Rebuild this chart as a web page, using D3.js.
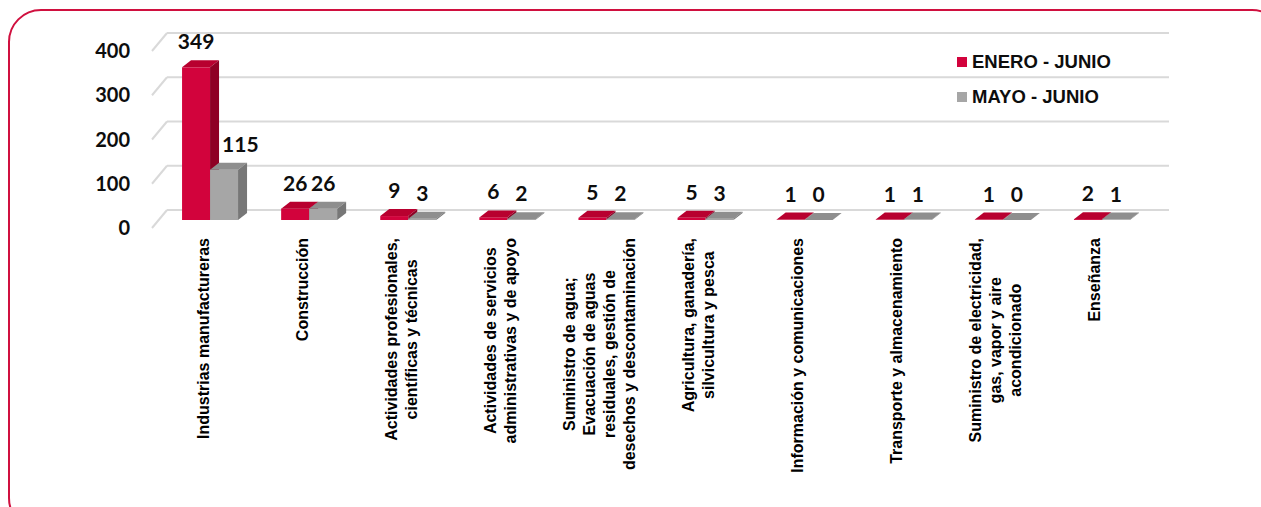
<!DOCTYPE html>
<html>
<head>
<meta charset="utf-8">
<script src="https://cdnjs.cloudflare.com/ajax/libs/d3/7.8.5/d3.min.js"></script>
<style>
  body { margin: 0; background: #fff; }
  .tick { font-family: Lato, "Open Sans", sans-serif; font-weight: 700; font-size: 20px; fill: #0d0d0d; }
  .value { font-family: Lato, "Open Sans", sans-serif; font-weight: 700; font-size: 21px; fill: #0d0d0d; }
  .cat { font-family: "Liberation Sans", Arial, sans-serif; font-weight: 700; font-size: 16px; fill: #000; }
  .legend { font-family: "Liberation Sans", Arial, sans-serif; font-weight: 700; font-size: 18.5px; fill: #0d0d0d; }
</style>
</head>
<body>
<div id="chart"></div>
<script>
// categorias (saltos de linea como en el original)
const categories = [
  "Industrias  manufactureras",
  "Construcción",
  "Actividades profesionales,\ncientíficas y técnicas",
  "Actividades de servicios\nadministrativas y de apoyo",
  "Suministro de agua;\nEvacuación de aguas\nresiduales, gestión de\ndesechos y descontaminación",
  "Agricultura, ganadería,\nsilvicultura y pesca",
  "Información y comunicaciones",
  "Transporte y almacenamiento",
  "Suministro de electricidad,\ngas, vapor y aire\nacondicionado",
  "Enseñanza"
];
const seriesNames = ["ENERO - JUNIO", "MAYO - JUNIO"];
const eneroJunio = [349, 26, 9, 6, 5, 5, 1, 1, 1, 2];
const mayoJunio = [115, 26, 3, 2, 2, 3, 0, 1, 0, 1];
const yTicks = [0, 100, 200, 300, 400];

const width = 1261, height = 507;
const faces = {
  "ENERO - JUNIO": {front: "#d2033c", top: "#b8002f", side: "#8e0024"},
  "MAYO - JUNIO": {front: "#a6a6a6", top: "#8e8e8e", side: "#777777"}
};
const depth = {dx: 9, dy: -7};      // profundidad de cada barra
const wall = {dx: 15, dy: -18};     // del frente del piso a la pared

const svg = d3.select("#chart").append("svg")
  .attr("width", width)
  .attr("height", height);

// marco redondeado
svg.append("rect")
  .attr("x", 9).attr("y", 10)
  .attr("width", 1275).attr("height", 520)
  .attr("rx", 32).attr("ry", 32)
  .attr("fill", "none")
  .attr("stroke", "#d0103f")
  .attr("stroke-width", 2);

const x = d3.scaleBand()
  .domain(categories)
  .range([160.5, 1151.5])
  .paddingInner(0.435)
  .paddingOuter(0.2175);
const xs = d3.scaleBand()
  .domain(seriesNames)
  .range([0, x.bandwidth()]);
const yBar = d3.scaleLinear().domain([0, 400]).range([220, 45]);
const yAxis = d3.scaleLinear().domain([0, 400]).range([228, 51]);

// lineas de division (pared y piso)
const grid = svg.append("g");
yTicks.forEach(function (t) {
  const yf = yAxis(t);
  grid.append("line")
    .attr("x1", 152).attr("y1", yf)
    .attr("x2", 152 + wall.dx).attr("y2", yf + wall.dy)
    .attr("stroke", "#d9d9d9").attr("stroke-width", 2);
  grid.append("line")
    .attr("x1", 152 + wall.dx).attr("y1", yf + wall.dy)
    .attr("x2", 1169).attr("y2", yf + wall.dy)
    .attr("stroke", "#d9d9d9").attr("stroke-width", 2);
  svg.append("text")
    .attr("class", "tick")
    .attr("x", 130)
    .attr("y", yf + 7)
    .attr("text-anchor", "end")
    .text(t);
});

// barras 3D
const rows = categories.map(function (c, i) {
  return {cat: c, vals: [
    {s: seriesNames[0], v: eneroJunio[i]},
    {s: seriesNames[1], v: mayoJunio[i]}
  ]};
});

const bars = svg.append("g");
rows.forEach(function (r) {
  r.vals.forEach(function (d) {
    const x0 = x(r.cat) + xs(d.s), w = xs.bandwidth();
    const yt = yBar(d.v), yb = yBar(0);
    const f = faces[d.s];
    bars.append("rect")
      .attr("x", x0).attr("y", yt)
      .attr("width", w).attr("height", Math.max(0, yb - yt))
      .attr("fill", f.front);
    bars.append("path")
      .attr("d", "M" + x0 + "," + yt + "L" + (x0 + w) + "," + yt +
        "L" + (x0 + w + depth.dx) + "," + (yt + depth.dy) +
        "L" + (x0 + depth.dx) + "," + (yt + depth.dy) + "Z")
      .attr("fill", f.top);
    bars.append("path")
      .attr("d", "M" + (x0 + w) + "," + yt + "L" + (x0 + w + depth.dx) + "," + (yt + depth.dy) +
        "L" + (x0 + w + depth.dx) + "," + (yb + depth.dy) +
        "L" + (x0 + w) + "," + yb + "Z")
      .attr("fill", f.side);
  });
});

// etiquetas de valores
rows.forEach(function (r) {
  const red = r.vals[0];
  r.vals.forEach(function (d, k) {
    const x0 = x(r.cat) + xs(d.s), w = xs.bandwidth();
    const base = yBar(d.v) + depth.dy - 11;
    const t = svg.append("text")
      .attr("class", "value")
      .attr("y", base)
      .text(d.v);
    // si la barra roja tapa la etiqueta gris, se corre a la derecha
    if (k === 1 && yBar(red.v) + depth.dy < base - 16) {
      t.attr("x", x0 + depth.dx + 3).attr("text-anchor", "start");
    } else {
      t.attr("x", x0 + w / 2).attr("text-anchor", "middle");
    }
  });
});

// etiquetas de categorias (verticales, centradas)
const lineGap = 20, topY = 238;
categories.forEach(function (c) {
  const lines = c.split("\n");
  const cx = x(c) + 21;
  const g = svg.append("g");
  const texts = lines.map(function (l, i) {
    return g.append("text")
      .attr("class", "cat")
      .attr("text-anchor", "middle")
      .attr("x", 0)
      .attr("y", (i - (lines.length - 1) / 2) * lineGap + 5.5)
      .text(l);
  });
  const maxLen = d3.max(texts, function (t) { return t.node().getComputedTextLength(); });
  g.attr("transform", "translate(" + cx + "," + (topY + maxLen / 2) + ") rotate(-90)");
});

// leyenda
const legend = svg.append("g").attr("transform", "translate(957,57)");
seriesNames.forEach(function (s, i) {
  legend.append("rect")
    .attr("x", 0).attr("y", i * 35)
    .attr("width", 10).attr("height", 10)
    .attr("fill", faces[s].front);
  legend.append("text")
    .attr("class", "legend")
    .attr("x", 15).attr("y", i * 35 + 11)
    .text(s);
});
</script>
</body>
</html>
